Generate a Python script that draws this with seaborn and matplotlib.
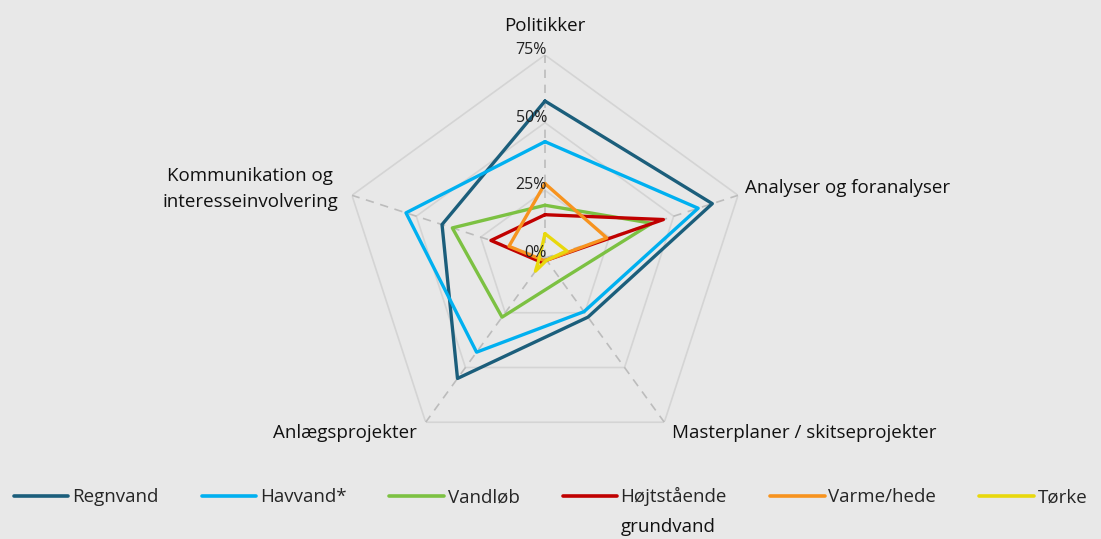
import numpy as np
import pandas as pd
import matplotlib.pyplot as plt
import seaborn as sns

# Data (share of answers, %)
categories = ["Politikker", "Analyser og foranalyser", "Masterplaner / skitseprojekter",
              "Anlægsprojekter", "Kommunikation og\ninteresseinvolvering"]
regnvand = [58, 65, 27, 55, 40]
havvand = [43, 59.5, 24.5, 43, 54]
vandlob = [19.5, 41.5, 10, 27, 36]
hojtstaende = [16, 46, 1, 2, 21]
varme = [27.5, 24, 1, 1, 14]
torke = [9, 8.5, 1, 6, 2]
series_names = ["Regnvand", "Havvand*", "Vandløb", "Højtstående", "Varme/hede", "Tørke"]
ticks = [0, 25, 50, 75]
tick_labels = ["0%", "25%", "50%", "75%"]

colors = ["#1b5e7b", "#00b0f0", "#7cc142", "#c00000", "#f7931e", "#e8d80d"]
bg = "#e8e8e8"

sns.set_theme(style="white")
plt.rcParams["font.family"] = ["Open Sans", "DejaVu Sans"]

# Long table with closed loops, going clockwise from the top
n = len(categories)
angles = np.pi / 2 - 2 * np.pi * np.arange(n) / n
rows = []
for name, vals in zip(series_names, [regnvand, havvand, vandlob, hojtstaende, varme, torke]):
    for i in range(n + 1):
        rows.append({"series": name, "theta": angles[i % n] - (2 * np.pi if i == n else 0),
                     "value": vals[i % n], "order": i})
df = pd.DataFrame(rows)

fig = plt.figure(figsize=(11.01, 5.39), dpi=100, facecolor=bg)
ax = fig.add_axes([0.3106, 0.1447, 0.3688, 0.7532], projection="polar")
ax.set_facecolor(bg)
ax.set_ylim(0, 75)
ax.grid(False)
ax.spines["polar"].set_visible(False)
ax.set_xticks([])
ax.set_yticks([])

# pentagon grid and dashed spokes
loop = np.append(angles, angles[0])
for t in ticks[1:]:
    ax.plot(loop, [t] * (n + 1), color="#d4d4d4", lw=1.2, zorder=1)
for a in angles:
    ax.plot([a, a], [0, 75], color="#bcbcbc", lw=1.2, ls=(0, (5, 4)), zorder=1)

sns.lineplot(data=df, x="theta", y="value", hue="series", hue_order=series_names,
             palette=colors, sort=False, estimator=None, units="series",
             lw=2.4, ax=ax, zorder=3, legend=True)
ax.set_xlabel("")
ax.set_ylabel("")

# radial tick labels
for t, lab in zip(ticks, tick_labels):
    ax.annotate(lab, xy=(np.pi / 2, t), xytext=(2, 5), textcoords="offset pixels",
                ha="right", va="center", fontsize=11.5, color="#222222", zorder=4)

# category labels
label_pos = [
    ((0, 20), "center", "bottom"),
    ((7, 7), "left", "center"),
    ((8, -11), "left", "center"),
    ((-9, -11), "right", "center"),
    ((-14, 6), "right", "center"),
]
for a, cat, (off, ha, va) in zip(angles, categories, label_pos):
    ax.annotate(cat, xy=(a, 75), xytext=off, textcoords="offset pixels",
                ha=ha, va=va, fontsize=13.5, color="#111111", linespacing=1.55,
                multialignment="center")

# legend
handles, labels = ax.get_legend_handles_labels()
ax.get_legend().remove()
leg = fig.legend(handles, labels, loc="center", bbox_to_anchor=(0.5, 0.078), ncol=6,
                 frameon=False, fontsize=13.5, handlelength=2.9, handletextpad=0.2,
                 columnspacing=2.3)
for h in leg.get_lines():
    h.set_linewidth(2.6)

fig.canvas.draw()
txt = leg.get_texts()[3]
bb = txt.get_window_extent()
fig.text(bb.x0 / fig.bbox.width, (bb.y0 - 12) / fig.bbox.height, "grundvand",
         ha="left", va="top", fontsize=13.5, color="#111111")

fig.savefig("out.png", dpi=100, facecolor=bg)
